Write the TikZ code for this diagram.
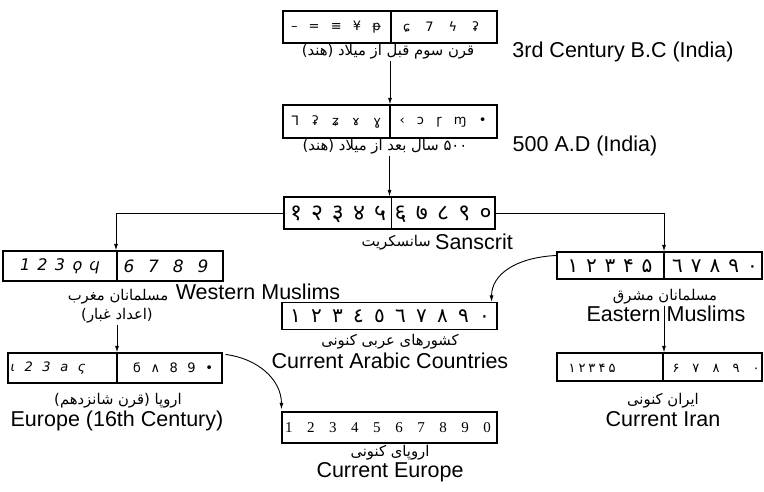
\documentclass[tikz,border=0pt]{standalone}
\usepackage{fontspec}
\setmainfont{Liberation Sans}
\newfontfamily\fa[Script=Arabic]{DejaVu Sans}
\newfontfamily\dv{DejaVu Sans}
\newfontfamily\deva[Script=Devanagari]{Noto Sans}
\newfontfamily\tms{Liberation Serif}
\TeXXeTstate=1
\usetikzlibrary{arrows.meta}
\newcommand\digrow[2]{\hbox to #1pt{#2}}
\tikzset{
  box/.style={draw, line width=1.1pt, inner sep=0pt},
  divl/.style={line width=1.1pt},
  arr/.style={line width=0.9pt, -{Latex[length=6.5pt,width=4pt]}},
  en/.style={font=\fontsize{21.5}{23}\selectfont, inner sep=1pt},
  fal/.style={font=\fontsize{14.8}{16}\selectfont\fa, inner sep=1pt},
  dig/.style={inner sep=0pt},
}
\begin{document}
\begin{tikzpicture}[x=1pt,y=-1pt]
\useasboundingbox (0,0) rectangle (764,491);

% ---------- boxes ----------
\node[box, minimum width=214pt, minimum height=32pt] (b1) at (390,27) {};
\draw[divl] ([xshift=1pt]b1.north) -- ([xshift=1pt]b1.south);
\node[dig, font=\fontsize{13}{13}\selectfont\dv] (b1l) at (336,27) {\digrow{90}{– \hfil = \hfil ≡ \hfil ¥ \hfil ᵽ}};
\node[dig, font=\fontsize{13}{13}\selectfont\dv] (b1r) at (441,27) {\digrow{76}{ɕ \hfil 7 \hfil ϟ \hfil ʡ}};

\node[box, minimum width=214pt, minimum height=33pt] (b2) at (390,121.5) {};
\draw[divl] (b2.north) -- (b2.south);
\node[dig, font=\fontsize{13}{13}\selectfont\dv] (b2l) at (336,122) {\digrow{90}{ᒣ \hfil ʡ \hfil ʑ \hfil ɤ \hfil ɣ}};
\node[dig, font=\fontsize{13}{13}\selectfont\dv] (b2r) at (443,122) {\digrow{87}{‹ \hfil ɔ \hfil ɼ \hfil ɱ \hfil •}};

\node[box, minimum width=211pt, minimum height=32pt] (bs) at (389.5,213) {};
\draw[divl] ([xshift=2pt]bs.north) -- ([xshift=2pt]bs.south);
\node[dig, font=\fontsize{23}{23}\selectfont\deva] (bsl) at (338,214) {\digrow{96}{१ \hfil २ \hfil ३ \hfil ४ \hfil ५}};
\node[dig, font=\fontsize{23}{23}\selectfont\deva] (bsr) at (443,214) {\digrow{97}{६ \hfil ७ \hfil ८ \hfil ९ \hfil ०}};

\node[box, minimum width=220pt, minimum height=30pt] (bw) at (113,266) {};
\draw[divl] ([xshift=4pt]bw.north) -- ([xshift=4pt]bw.south);
\node[dig, font=\fontsize{16}{16}\selectfont\dv\itshape] (bwl) at (60,266) {\digrow{80}{1 \hfil 2 \hfil 3 \hfil ϙ \hfil ϥ}};
\node[dig, font=\fontsize{17}{17}\selectfont\dv\itshape] (bwr) at (166,266) {\digrow{85}{6 \hfil 7 \hfil 8 \hfil 9}};

\node[box, minimum width=214pt, minimum height=30pt] (be16) at (115,368) {};
\draw[divl] ([xshift=2pt]be16.north) -- ([xshift=2pt]be16.south);
\node[dig, font=\fontsize{13}{13}\selectfont\dv\itshape] (be16l) at (48,368) {\digrow{75}{ι \hfil 2 \hfil 3 \hfil a \hfil ς}};
\node[dig, font=\fontsize{13}{13}\selectfont\dv] (be16r) at (173,368) {\digrow{80}{ϭ \hfil ∧ \hfil 8 \hfil 9 \hfil •}};

\node[box, minimum width=215pt, minimum height=31pt] (bce) at (389.5,427.5) {};
\node[dig, font=\fontsize{15}{15}\selectfont\tms] (bcet) at (388,428) {\digrow{206}{1 \hfil 2 \hfil 3 \hfil 4 \hfil 5 \hfil 6 \hfil 7 \hfil 8 \hfil 9 \hfil 0}};

\node[box, minimum width=215pt, minimum height=27pt] (ba) at (389.5,316) {};
\node[dig, font=\fontsize{20}{20}\selectfont\fa] (bat) at (390,316) {\digrow{200}{١ \hfil ٢ \hfil ٣ \hfil ٤ \hfil ٥ \hfil ٦ \hfil ٧ \hfil ٨ \hfil ٩ \hfil ٠}};

\node[box, minimum width=205pt, minimum height=27pt] (beast) at (659.5,265.5) {};
\coordinate (ediv) at (664,300);
\draw[divl] (ediv |- beast.north) -- (ediv |- beast.south);
\node[dig, font=\fontsize{20}{20}\selectfont\fa] (beastl) at (610,266) {\digrow{85}{١ \hfil ٢ \hfil ٣ \hfil ۴ \hfil ۵}};
\node[dig, font=\fontsize{20}{20}\selectfont\fa] (beastr) at (715,266) {\digrow{86}{٦ \hfil ٧ \hfil ٨ \hfil ٩ \hfil ٠}};

\node[box, minimum width=205pt, minimum height=28pt] (bi) at (659.5,367) {};
\draw[divl] ([xshift=-1pt]ediv |- bi.north) -- ([xshift=-1pt]ediv |- bi.south);
\node[dig, font=\fontsize{13}{13}\selectfont\fa] (bil) at (592,368) {\digrow{47}{۱ \hfil ۲ \hfil ۳ \hfil ۴ \hfil ۵}};
\node[dig, font=\fontsize{13}{13}\selectfont\fa] (bir) at (716,368) {\digrow{87}{۶ \hfil ۷ \hfil ۸ \hfil ۹ \hfil ۰}};

% ---------- labels ----------
\node[fal] (l1) at (388,52) {\beginR قرن سوم قبل از میلاد (هند)\endR};
\node[en] (e1) at (623,52) {3rd Century B.C (India)};
\node[fal] (l2) at (385,147) {\beginR ۵۰۰ سال بعد از میلاد (هند)\endR};
\node[en] (e2) at (585,146) {500 A.D (India)};
\node[fal, anchor=east] (ls) at (432,243) {\beginR سانسکریت\endR};
\node[en, anchor=west] (es) at (434,242) {Sanscrit};
\node[fal] (lw) at (118,297) {\beginR مسلمانان مغرب\endR};
\node[en] (ew) at (258,292) {Western Muslims};
\node[fal] (lw2) at (117,316) {\beginR (اعداد غبار)\endR};
\node[fal] (le) at (665,297) {\beginR مسلمانان مشرق\endR};
\node[en] (ee) at (666,314) {Eastern Muslims};
\node[fal] (la) at (390,342) {\beginR کشورهای عربی کنونی\endR};
\node[en] (ea) at (390,361) {Current Arabic Countries};
\node[fal] (l16) at (118,401) {\beginR اروپا (قرن شانزدهم)\endR};
\node[en] (e16) at (117,421) {Europe (16th Century)};
\node[fal] (li) at (663,401) {\beginR ایران کنونی\endR};
\node[en] (ei) at (663,419) {Current Iran};
\node[fal] (lce) at (390,453) {\beginR اروپای کنونی\endR};
\node[en] (ece) at (390,472) {Current Europe};

% ---------- connectors ----------
\draw[arr] (l1.south -| b2.north) -- (b2.north);
\draw[arr] (l2.south -| bs.north) -- (bs.north);
\draw[arr] (bs.west) -| ([xshift=3pt]bw.north);
\draw[arr] (bs.east) -| (ediv |- beast.north);
\draw[arr] (lw2.south) -- (lw2.south |- be16.north);
\draw[arr] (le.south -| ediv) -- (ediv |- bi.north);
\draw[arr] ([yshift=-4pt]beast.north west) .. controls +(-40,2) and +(0,-28) .. ([xshift=-6pt]ba.north east);
\draw[arr] ([xshift=3pt,yshift=-2pt]be16.north east) .. controls +(32,4) and +(0,-30) .. ([yshift=2pt]bce.north west);
\end{tikzpicture}
\end{document}
